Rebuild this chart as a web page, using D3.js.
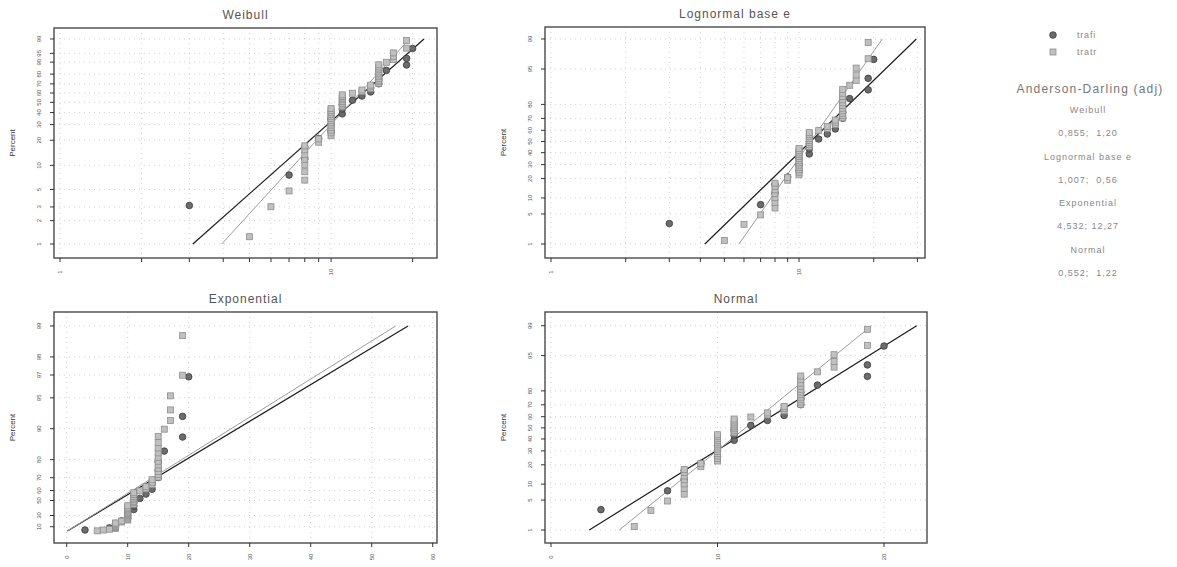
<!DOCTYPE html>
<html><head><meta charset="utf-8">
<script src="https://cdn.jsdelivr.net/npm/d3@7"></script>
<style>body{margin:0;background:#fff}svg{display:block}text{font-family:"Liberation Sans",Arial,sans-serif}</style>
</head><body>
<svg id="c" width="1177" height="567"></svg>
<script>
// ---------- data ----------
const groups = ["trafi", "tratr"];
const trafi = [3,7,8,8,9,10,10,10,11,11,11,12,13,14,14,15,15,15,16,19,19,20];
const tratr = [5,6,7,8,8,8,8,8,8,8,9,9,10,10,10,10,10,10,10,10,10,10,10,10,10,
               11,11,11,11,11,11,11,11,12,13,13,14,14,14,15,15,15,15,15,15,15,15,15,15,15,
               16,17,17,17,19,19];
// fitted parameters (trafi, tratr)
const weibullShape = [3.12, 3.84];
const weibullScale = [13.5, 13.08];
const lognormLoc = [2.41, 2.41];
const lognormScale = [0.422, 0.286];
const expMean = [12.15, 11.71];
const normMean = [12.13, 11.68];
const normSd = [4.226, 3.259];
// axis ticks
const pctTicksWeibull = [1,2,3,5,10,20,30,40,50,60,70,80,90,95,99];
const pctTicksNormal = [1,5,10,20,30,40,50,60,70,80,95,99];
const pctTicksExp = [10,30,50,60,70,80,90,95,97,98,99];
const xTicksWeibull = [1,2,3,4,5,6,7,8,9,10,20];
const xTicksLognorm = [1,2,3,4,5,6,7,8,9,10,20,30];
const xLabelsLog = [1,10];
const xTicksExp = [0,10,20,30,40,50,60];
const xTicksNormal = [0,10,20];
// legend / goodness of fit
const adTitles = ["Weibull","Lognormal base e","Exponential","Normal"];
const adValues = ["0,855;  1,20","1,007;  0,56","4,532; 12,27","0,552;  1,22"];

// ---------- helpers ----------
function qnorm(p){
  const a=[-3.969683028665376e+01,2.209460984245205e+02,-2.759285104469687e+02,1.383577518672690e+02,-3.066479806614716e+01,2.506628277459239e+00];
  const b=[-5.447609879822406e+01,1.615858368580409e+02,-1.556989798598866e+02,6.680131188771972e+01,-1.328068155288572e+01];
  const c=[-7.784894002430293e-03,-3.223964580411365e-01,-2.400758277161838e+00,-2.549732539343734e+00,4.374664141464968e+00,2.938163982698783e+00];
  const d=[7.784695709041462e-03,3.224671290700398e-01,2.445134137142996e+00,3.754408661907416e+00];
  const pl=0.02425; let q,r;
  if(p<pl){q=Math.sqrt(-2*Math.log(p));return (((((c[0]*q+c[1])*q+c[2])*q+c[3])*q+c[4])*q+c[5])/((((d[0]*q+d[1])*q+d[2])*q+d[3])*q+1);}
  if(p>1-pl){q=Math.sqrt(-2*Math.log(1-p));return -(((((c[0]*q+c[1])*q+c[2])*q+c[3])*q+c[4])*q+c[5])/((((d[0]*q+d[1])*q+d[2])*q+d[3])*q+1);}
  q=p-0.5;r=q*q;return (((((a[0]*r+a[1])*r+a[2])*r+a[3])*r+a[4])*r+a[5])*q/(((((b[0]*r+b[1])*r+b[2])*r+b[3])*r+b[4])*r+1);
}
const tWeib = p => Math.log(-Math.log(1-p));
const tExp = p => -Math.log(1-p);

const panels = [
  {title:"Weibull", box:[54,28,437,258], xs:d3.scaleLog().domain([0.95,24.6]), xticks:xTicksWeibull, xlabels:xLabelsLog,
   ty:tWeib, ydom:[-5.018,1.855], yticks:pctTicksWeibull,
   fitX:(g,p)=>weibullScale[g]*Math.pow(-Math.log(1-p),1/weibullShape[g])},
  {title:"Lognormal base e", box:[545,27,925,258], xs:d3.scaleLog().domain([0.946,32.2]), xticks:xTicksLognorm, xlabels:xLabelsLog,
   ty:qnorm, ydom:[-2.644,2.598], yticks:pctTicksNormal,
   fitX:(g,p)=>Math.exp(lognormLoc[g]+lognormScale[g]*qnorm(p))},
  {title:"Exponential", box:[54,312,437,543], xs:d3.scaleLinear().domain([-2.08,60.7]), xticks:xTicksExp, xlabels:xTicksExp,
   ty:tExp, ydom:[-0.26,4.919], yticks:pctTicksExp,
   fitX:(g,p)=>expMean[g]*(-Math.log(1-p))},
  {title:"Normal", box:[545,312,927,543], xs:d3.scaleLinear().domain([-0.36,22.58]), xticks:xTicksNormal, xlabels:xTicksNormal,
   ty:qnorm, ydom:[-2.622,2.638], yticks:pctTicksNormal,
   fitX:(g,p)=>normMean[g]+normSd[g]*qnorm(p)}
];

const svg = d3.select("#c");
const series = [trafi, tratr];
const lineCol = ["#1c1c1c", "#9c9c9c"];
const lineW = [1.2, 1];

panels.forEach(P=>{
  const [x0,y0,x1,y1] = P.box;
  const xs = P.xs.range([x0,x1]);
  const ys = d3.scaleLinear().domain(P.ydom).range([y1,y0]);
  const g = svg.append("g");
  // grid
  g.selectAll(".vg").data(P.xticks).join("line")
    .attr("x1",d=>xs(d)).attr("x2",d=>xs(d)).attr("y1",y0).attr("y2",y1)
    .attr("stroke","#c4c4c4").attr("stroke-width",0.8).attr("stroke-dasharray","1,4");
  g.selectAll(".hg").data(P.yticks).join("line")
    .attr("x1",x0).attr("x2",x1).attr("y1",d=>ys(P.ty(d/100))).attr("y2",d=>ys(P.ty(d/100)))
    .attr("stroke","#c4c4c4").attr("stroke-width",0.8).attr("stroke-dasharray","1,4");
  // frame
  g.append("rect").attr("x",x0).attr("y",y0).attr("width",x1-x0).attr("height",y1-y0)
    .attr("fill","none").attr("stroke","#4a4a4a").attr("stroke-width",1.4);
  // ticks
  g.selectAll(".yt").data(P.yticks).join("line")
    .attr("x1",x0-4).attr("x2",x0).attr("y1",d=>ys(P.ty(d/100))).attr("y2",d=>ys(P.ty(d/100)))
    .attr("stroke","#333").attr("stroke-width",1);
  g.selectAll(".ytl").data(P.yticks).join("text")
    .attr("transform",d=>`translate(${x0-13},${ys(P.ty(d/100))}) rotate(-90)`)
    .attr("text-anchor","middle").attr("font-size",6).attr("fill","#555").text(d=>d);
  g.selectAll(".xt").data(P.xticks).join("line")
    .attr("x1",d=>xs(d)).attr("x2",d=>xs(d)).attr("y1",y1).attr("y2",y1+4)
    .attr("stroke","#333").attr("stroke-width",1);
  g.selectAll(".xtl").data(P.xlabels).join("text")
    .attr("transform",d=>`translate(${xs(d)+2},${y1+14}) rotate(-90)`)
    .attr("text-anchor","middle").attr("font-size",6).attr("fill","#555").text(d=>d);
  // title & axis label
  g.append("text").attr("x",(x0+x1)/2).attr("y",y0-9).attr("text-anchor","middle")
    .attr("font-size",12).attr("letter-spacing",1).attr("fill","#555").text(P.title);
  g.append("text").attr("transform",`translate(${x0-39},${(y0+y1)/2}) rotate(-90)`)
    .attr("text-anchor","middle").attr("font-size",8).attr("fill","#333").text("Percent");
  // fitted lines
  [0,1].forEach(k=>{
    g.append("line")
      .attr("x1",xs(P.fitX(k,0.01))).attr("y1",ys(P.ty(0.01)))
      .attr("x2",xs(P.fitX(k,0.99))).attr("y2",ys(P.ty(0.99)))
      .attr("stroke",lineCol[k]).attr("stroke-width",lineW[k]);
  });
  // points
  series.forEach((arr,k)=>{
    const n = arr.length;
    const pts = arr.slice().sort((a,b)=>a-b).map((v,i)=>({x:v,p:(i+1-0.3)/(n+0.4)}));
    if(k===0){
      g.selectAll(".c").data(pts).join("circle")
        .attr("cx",d=>xs(d.x)).attr("cy",d=>ys(P.ty(d.p))).attr("r",3.3)
        .attr("fill","#6c6c6c").attr("stroke","#3a3a3a").attr("stroke-width",0.8);
    } else {
      g.selectAll(".s").data(pts).join("rect")
        .attr("x",d=>xs(d.x)-3).attr("y",d=>ys(P.ty(d.p))-3).attr("width",6).attr("height",6)
        .attr("fill","#c0c0c0").attr("stroke","#8e8e8e").attr("stroke-width",0.8);
    }
  });
});

// ---------- legend ----------
const lg = svg.append("g");
lg.append("circle").attr("cx",1053).attr("cy",35).attr("r",3.3).attr("fill","#6c6c6c").attr("stroke","#3a3a3a").attr("stroke-width",0.8);
lg.append("rect").attr("x",1050).attr("y",49).attr("width",6).attr("height",6).attr("fill","#c0c0c0").attr("stroke","#8e8e8e").attr("stroke-width",0.8);
lg.selectAll(".gl").data(groups).join("text")
  .attr("x",1077).attr("y",(d,i)=>38+i*17).attr("font-size",9).attr("letter-spacing",0.8).attr("fill","#888").text(d=>d);
lg.append("text").attr("x",1090).attr("y",93).attr("text-anchor","middle").attr("font-size",12)
  .attr("letter-spacing",1.2).attr("fill","#777").text("Anderson-Darling (adj)");
adTitles.forEach((t,i)=>{
  lg.append("text").attr("x",1088).attr("y",113+i*46.7).attr("text-anchor","middle").attr("font-size",9)
    .attr("letter-spacing",1).attr("fill","#888").text(t);
  lg.append("text").attr("x",1088).attr("y",136+i*46.7).attr("text-anchor","middle").attr("font-size",9)
    .attr("letter-spacing",1).attr("fill","#888").attr("xml:space","preserve").style("white-space","pre").text(adValues[i]);
});
</script>
</body></html>
